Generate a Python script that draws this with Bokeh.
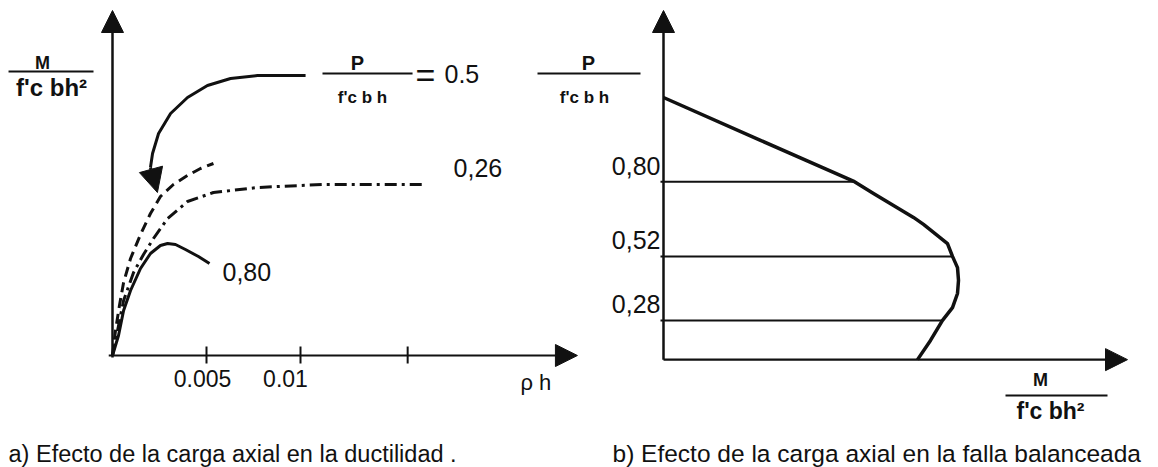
import numpy as np
from bokeh.plotting import figure
from bokeh.models import Range1d, Arrow, NormalHead
from bokeh.core.properties import value
from bokeh.embed import file_html
from bokeh.resources import INLINE

# ---------------- panel a: M/(f'c b h^2) vs rho*h for three axial loads ----------------
rho_h_p080 = [0, 0.00032, 0.00059, 0.00096, 0.00149, 0.00202, 0.00255, 0.00293, 0.00335, 0.00388, 0.00457, 0.00516]
m_p080 = [0, 0.020, 0.045, 0.065, 0.087, 0.102, 0.110, 0.112, 0.111, 0.106, 0.099, 0.092]

rho_h_p050 = [0, 0.00016, 0.00037, 0.00059, 0.00096, 0.00149, 0.00202, 0.00255, 0.00324, 0.00399, 0.00468, 0.00537]
m_p050 = [0, 0.025, 0.050, 0.073, 0.097, 0.121, 0.142, 0.159, 0.171, 0.180, 0.187, 0.192]

rho_h_p026 = [0, 0.00027, 0.00059, 0.00112, 0.00165, 0.00218, 0.00293, 0.00399, 0.00537, 0.00771, 0.01122, 0.01660]
m_p026 = [0, 0.025, 0.055, 0.083, 0.101, 0.117, 0.137, 0.154, 0.163, 0.168, 0.171, 0.171]

# curved pointer from the P/f'cbh = 0.5 label to its curve
pointer_x = [0.01027, 0.00771, 0.00628, 0.00505, 0.00399, 0.00309, 0.00245, 0.00213, 0.00202]
pointer_y = [0.280, 0.280, 0.277, 0.270, 0.258, 0.242, 0.222, 0.202, 0.188]
pointer_tip = (0.00239, 0.163)

tick_rho = [0.005, 0.01, 0.0157]
tick_rho_labels = ["0.005", "0.01", ""]

# ---------------- panel b: balanced-failure interaction curve ----------------
m_bal = [0.0, 0.097, 0.191, 0.210, 0.220, 0.230, 0.250, 0.260, 0.270, 0.284, 0.289, 0.294, 0.295,
         0.294, 0.289, 0.279, 0.267, 0.254]
p_bal = [1.1155, 0.955, 0.800, 0.756, 0.733, 0.711, 0.666, 0.640, 0.610, 0.568, 0.520, 0.478, 0.430,
         0.381, 0.328, 0.280, 0.205, 0.133]

p_levels = [0.80, 0.52, 0.28]
p_level_labels = ["0,80", "0,52", "0,28"]

# ---------------- figure ----------------
FONT = "Liberation Sans"
INK = "#111111"

p = figure(width=1158, height=467, output_backend="svg", toolbar_location=None,
           x_range=Range1d(-0.0059574, 0.0556383), y_range=Range1d(-0.112, 0.355),
           min_border=0)
p.extra_x_ranges = {"mb": Range1d(-0.663, 0.495)}
p.extra_y_ranges = {"pb": Range1d(-0.2713, 1.4791)}
p.axis.visible = False
p.grid.visible = False
p.outline_line_color = None
p.background_fill_color = "white"
p.border_fill_color = "white"

# ---- panel a axes (arrows) ----
p.add_layout(Arrow(end=NormalHead(size=22, fill_color=INK, line_color=INK),
                   x_start=0, y_start=-0.002, x_end=0, y_end=0.345,
                   line_width=2.5, line_color=INK))
p.add_layout(Arrow(end=NormalHead(size=22, fill_color=INK, line_color=INK),
                   x_start=-0.0002, y_start=0, x_end=0.02473, y_end=0,
                   line_width=2.2, line_color=INK))
p.segment(x0=tick_rho, y0=[-0.008] * 3, x1=tick_rho, y1=[0.009] * 3,
          line_width=2, line_color=INK)
p.text(x=tick_rho, y=[-0.023] * 3, text=tick_rho_labels, x_offset=[-4, -15, 0],
       text_font=value(FONT), text_font_size="23px", text_align="center",
       text_baseline="middle", text_color=INK)
p.text(x=[0.0217], y=[-0.027], text=["ρ h"], text_font=value(FONT),
       text_font_size="22px", text_baseline="middle", text_color=INK)

# y label of panel a
p.text(x=[-0.00372], y=[0.293], text=["M"], text_font=value(FONT), text_font_style="bold",
       text_font_size="18px", text_align="center", text_baseline="middle", text_color=INK)
p.segment(x0=[-0.00553], y0=[0.284], x1=[-0.00101], y1=[0.284], line_width=2, line_color=INK)
p.text(x=[-0.00324], y=[0.268], text=["f'c bh²"], text_font=value(FONT), text_font_style="bold",
       text_font_size="24px", text_align="center", text_baseline="middle", text_color=INK)

# ---- panel a curves ----
p.line(rho_h_p080, m_p080, line_width=3, line_color=INK)
p.line(rho_h_p050, m_p050, line_width=3, line_color=INK, line_dash="10 6")
p.line(rho_h_p026, m_p026, line_width=3, line_color=INK, line_dash="12 5 3 5")

p.line(pointer_x, pointer_y, line_width=3, line_color=INK)
p.add_layout(Arrow(end=NormalHead(size=24, fill_color=INK, line_color=INK),
                   x_start=pointer_x[-1], y_start=pointer_y[-1],
                   x_end=pointer_tip[0], y_end=pointer_tip[1],
                   line_width=3, line_color=INK))

# labels of the curves
p.text(x=[rho_h_p026[-1]], y=[m_p026[-1]], text=["0,26"], x_offset=29, y_offset=-17,
       text_font=value(FONT), text_font_size="25px", text_baseline="middle", text_color=INK)
p.text(x=[rho_h_p080[-1]], y=[m_p080[-1]], text=["0,80"], x_offset=13, y_offset=8,
       text_font=value(FONT), text_font_size="25px", text_baseline="middle", text_color=INK)

# P/(f'c b h) = 0.5
p.text(x=[0.01303], y=[0.293], text=["P"], text_font=value(FONT), text_font_style="bold",
       text_font_size="20px", text_align="center", text_baseline="middle", text_color=INK)
p.segment(x0=[0.01117], y0=[0.282], x1=[0.01596], y1=[0.282], line_width=2, line_color=INK)
p.text(x=[0.0133], y=[0.258], text=["f'c b h"], text_font=value(FONT), text_font_style="bold",
       text_font_size="17px", text_align="center", text_baseline="middle", text_color=INK)
p.text(x=[0.01665], y=[0.281], text=["="], text_font=value(FONT),
       text_font_size="34px", text_align="center", text_baseline="middle", text_color=INK)
p.text(x=[0.01766], y=[0.282], text=["0.5"], text_font=value(FONT),
       text_font_size="25px", text_baseline="middle", text_color=INK)

# caption a
p.text(x=[-0.00553], y=[-0.098], text=["a) Efecto de la carga axial en la ductilidad ."],
       text_font=value(FONT), text_font_size="23.5px", text_baseline="alphabetic", text_color=INK)

# ---- panel b ----
p_axis = 0.133
p.add_layout(Arrow(end=NormalHead(size=22, fill_color=INK, line_color=INK),
                   x_start=0, y_start=p_axis, x_end=0, y_end=1.4416,
                   x_range_name="mb", y_range_name="pb", line_width=2.5, line_color=INK))
p.add_layout(Arrow(end=NormalHead(size=22, fill_color=INK, line_color=INK),
                   x_start=0, y_start=p_axis, x_end=0.464, y_end=p_axis,
                   x_range_name="mb", y_range_name="pb", line_width=2.2, line_color=INK))

# horizontal load levels up to the interaction curve
order = np.argsort(p_bal)
m_at_level = np.interp(p_levels, np.array(p_bal)[order], np.array(m_bal)[order])
p.segment(x0=[-0.003] * 3, y0=p_levels, x1=m_at_level, y1=p_levels,
          x_range_name="mb", y_range_name="pb", line_width=2, line_color=INK)
p.line(m_bal, p_bal, x_range_name="mb", y_range_name="pb", line_width=3.5,
       line_color=INK, line_join="round")
p.text(x=[-0.003] * 3, y=p_levels, text=p_level_labels, y_offset=-16,
       x_range_name="mb", y_range_name="pb",
       text_font=value(FONT), text_font_size="25px", text_align="right",
       text_baseline="middle", text_color=INK)

# y label of panel b
p.text(x=[-0.075], y=[1.2467], text=["P"], x_range_name="mb", y_range_name="pb",
       text_font=value(FONT), text_font_style="bold", text_font_size="20px",
       text_align="center", text_baseline="middle", text_color=INK)
p.segment(x0=[-0.126], y0=[1.2055], x1=[-0.023], y1=[1.2055],
          x_range_name="mb", y_range_name="pb", line_width=2, line_color=INK)
p.text(x=[-0.079], y=[1.1155], text=["f'c b h"], x_range_name="mb", y_range_name="pb",
       text_font=value(FONT), text_font_style="bold", text_font_size="17px",
       text_align="center", text_baseline="middle", text_color=INK)

# x label of panel b
p.text(x=[0.377], y=[0.0548], text=["M"], x_range_name="mb", y_range_name="pb",
       text_font=value(FONT), text_font_style="bold", text_font_size="18px",
       text_align="center", text_baseline="middle", text_color=INK)
p.segment(x0=[0.342], y0=[-0.0014], x1=[0.444], y1=[-0.0014],
          x_range_name="mb", y_range_name="pb", line_width=2, line_color=INK)
p.text(x=[0.387], y=[-0.0577], text=["f'c bh²"], x_range_name="mb", y_range_name="pb",
       text_font=value(FONT), text_font_style="bold", text_font_size="23px",
       text_align="center", text_baseline="middle", text_color=INK)

# caption b
p.text(x=[-0.051], y=[-0.2188], text=["b) Efecto de la carga axial en la falla balanceada"],
       x_range_name="mb", y_range_name="pb",
       text_font=value(FONT), text_font_size="24.5px", text_baseline="alphabetic", text_color=INK)

open("out.html", "w").write(file_html(p, INLINE))
